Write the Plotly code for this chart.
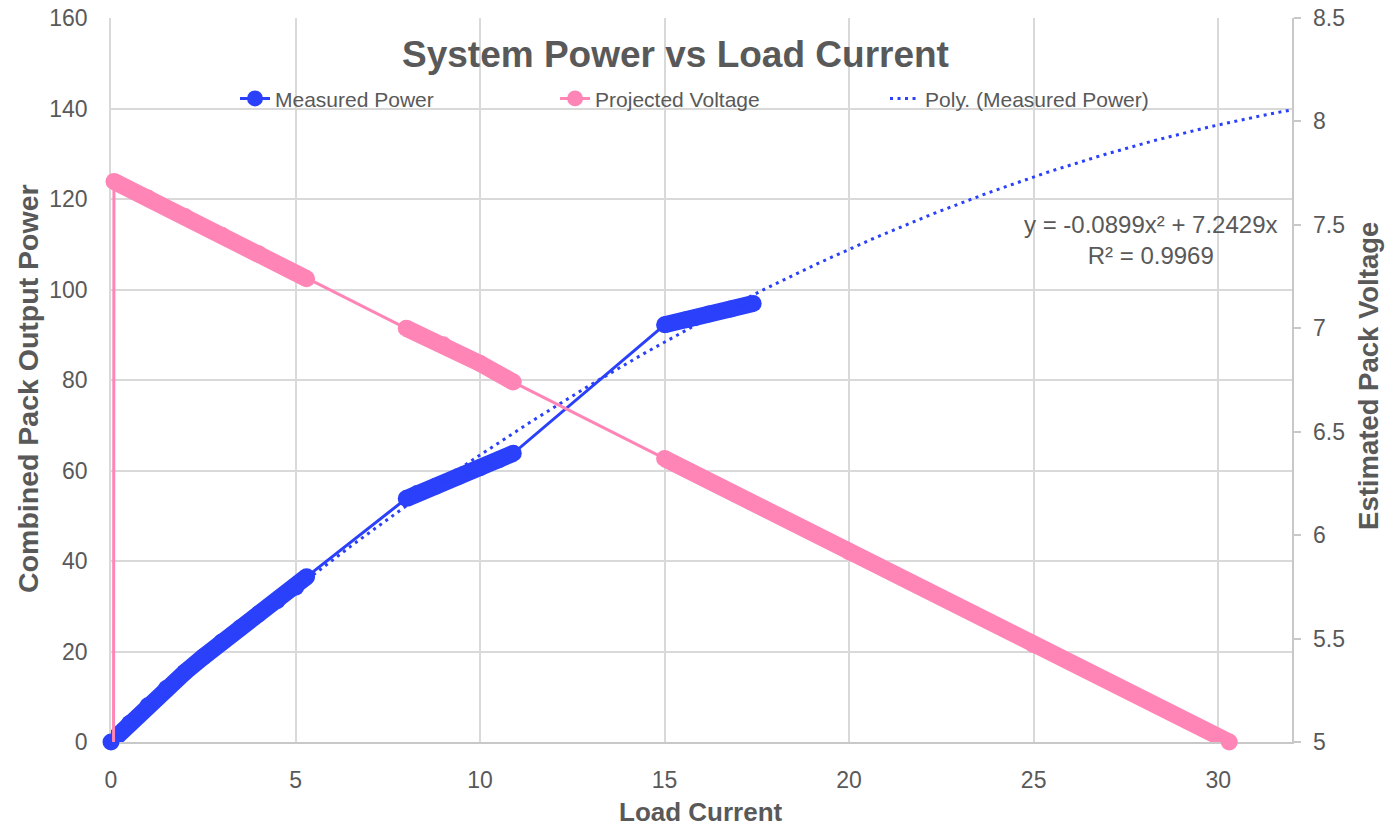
import numpy as np
import plotly.graph_objects as go

# ---------------- data ----------------
# Measured power: three runs of dense measurements (Load Current A, Power W)
power_run1_x = [0.0, 0.5, 1.0, 1.5, 2.0, 2.5, 3.0, 3.5, 4.0, 4.5, 5.0, 5.3]
power_run1_y = [0.0, 4.1, 8.0, 11.8, 15.4, 18.8, 22.1, 25.2, 28.3, 31.2, 34.2, 36.5]
power_run2_x = [8.0, 8.3, 8.8, 9.4, 10.0, 10.5, 10.9]
power_run2_y = [53.8, 54.9, 56.5, 58.6, 60.6, 62.3, 63.8]
power_run3_x = [15.0, 15.6, 16.2, 16.8, 17.4]
power_run3_y = [92.2, 93.3, 94.6, 95.7, 96.9]

# Projected voltage (first sample is 0 V, off the 5-8.5 scale)
volt_lead_x = [0.05]
volt_lead_y = [0.0]
volt_run1_x = [0.08, 1.0, 2.0, 3.0, 4.0, 5.3]
volt_run1_y = [7.71, 7.63, 7.54, 7.45, 7.36, 7.24]
volt_run2_x = [8.0, 9.0, 10.0, 10.9]
volt_run2_y = [7.00, 6.92, 6.83, 6.74]
volt_run3_x = [15.0, 20.0, 25.0, 30.3]
volt_run3_y = [6.37, 5.92, 5.47, 5.00]

# Excel polynomial trendline of Measured Power (order 2, intercept 0)
trend_coeffs = [-0.0899, 7.2429, 0.0]
trend_label = "y = -0.0899x² + 7.2429x<br>R² = 0.9969"

x_ticks = [0, 5, 10, 15, 20, 25, 30]
y_ticks = [0, 20, 40, 60, 80, 100, 120, 140, 160]
y2_ticks = [5, 5.5, 6, 6.5, 7, 7.5, 8, 8.5]

# ---------------- styling ----------------
BLUE = "#2A40FA"
PINK = "#FF85B6"
TXT = "#595959"
GRID = "#d9d9d9"
FONT = "Liberation Sans, Arial, sans-serif"
BAND = 17

power_x = power_run1_x + power_run2_x + power_run3_x
power_y = power_run1_y + power_run2_y + power_run3_y
volt_x = volt_lead_x + volt_run1_x + volt_run2_x + volt_run3_x
volt_y = volt_lead_y + volt_run1_y + volt_run2_y + volt_run3_y

fig = go.Figure()

# measured power: dense runs drawn as thick bands
for rx, ry in [(power_run1_x, power_run1_y), (power_run2_x, power_run2_y), (power_run3_x, power_run3_y)]:
    fig.add_trace(go.Scatter(x=rx, y=ry, mode="lines", line=dict(color=BLUE, width=BAND),
                             showlegend=False, hoverinfo="skip", yaxis="y"))
fig.add_trace(go.Scatter(x=power_x, y=power_y, mode="lines+markers", name="Measured Power",
                         line=dict(color=BLUE, width=3),
                         marker=dict(color=BLUE, size=BAND, opacity=1, line=dict(width=0)),
                         cliponaxis=False, legend="legend", yaxis="y"))

# trendline
tx = np.linspace(0, 32, 321)
ty = np.polyval(trend_coeffs, tx)
fig.add_trace(go.Scatter(x=tx, y=ty, mode="lines", name="Poly. (Measured Power)",
                         line=dict(color=BLUE, width=3, dash="3px,4.5px"),
                         legend="legend3", yaxis="y"))

# projected voltage (secondary axis)
for rx, ry in [(volt_run1_x, volt_run1_y), (volt_run2_x, volt_run2_y), (volt_run3_x, volt_run3_y)]:
    fig.add_trace(go.Scatter(x=rx, y=ry, mode="lines", line=dict(color=PINK, width=BAND),
                             showlegend=False, hoverinfo="skip", yaxis="y2"))
vsizes = [0] * len(volt_lead_x) + [BAND] * (len(volt_x) - len(volt_lead_x))
fig.add_trace(go.Scatter(x=volt_x, y=volt_y, mode="lines+markers", name="Projected Voltage",
                         line=dict(color=PINK, width=3),
                         marker=dict(color=PINK, size=vsizes, opacity=1, line=dict(width=0)),
                         cliponaxis=False, legend="legend2", yaxis="y2"))

def leg(x):
    return dict(x=x, y=0.8885, xanchor="left", yanchor="middle", orientation="h",
                font=dict(family=FONT, size=21, color=TXT), bgcolor="rgba(0,0,0,0)")

annotations = [
    dict(text="<b>System Power vs Load Current</b>", x=0.4776, y=0.9489, xref="paper", yref="paper",
         xanchor="center", yanchor="middle", showarrow=False, font=dict(size=37, color=TXT)),
    dict(text="<b>Load Current</b>", x=0.4996, y=-0.0967, xref="paper", yref="paper",
         xanchor="center", yanchor="middle", showarrow=False, font=dict(size=26, color=TXT)),
    dict(text="<b>Combined Pack Output Power</b>", x=-0.0703, y=0.489, xref="paper", yref="paper",
         xanchor="center", yanchor="middle", textangle=-90, showarrow=False, font=dict(size=28.5, color=TXT)),
    dict(text="<b>Estimated Pack Voltage</b>", x=1.0643, y=0.5055, xref="paper", yref="paper",
         xanchor="center", yanchor="middle", textangle=-90, showarrow=False, font=dict(size=27.5, color=TXT)),
    dict(text=trend_label, x=0.8806, y=0.6935, xref="paper", yref="paper", align="center",
         xanchor="center", yanchor="middle", showarrow=False, font=dict(size=24, color=TXT)),
]
# right-axis tick labels, placed on the secondary axis scale
for v in y2_ticks:
    annotations.append(dict(text=f"{v:g}", x=1.0, xref="paper", y=v, yref="y2", xanchor="left",
                            yanchor="middle", xshift=19, showarrow=False,
                            font=dict(size=23, color=TXT)))

fig.update_layout(
    width=1386, height=826,
    margin=dict(l=111, r=94, t=18, b=84, autoexpand=False),
    paper_bgcolor="white", plot_bgcolor="white",
    font=dict(family=FONT, color=TXT),
    legend=leg(0.105), legend2=leg(0.376), legend3=leg(0.6554),
    xaxis=dict(range=[0, 32], tickvals=x_ticks, showgrid=True, gridcolor=GRID, gridwidth=1.5,
               zeroline=False, showline=True, linecolor="#c8c8c8", linewidth=1.5,
               ticks="", ticklabelstandoff=17, tickfont=dict(size=23, color=TXT),
               automargin=False, layer="below traces"),
    yaxis=dict(range=[0, 160], tickvals=y_ticks, showgrid=True, gridcolor=GRID, gridwidth=1.5,
               zeroline=False, showline=True, linecolor=GRID, linewidth=1.5,
               ticks="", ticklabelstandoff=17, tickfont=dict(size=23, color=TXT),
               ticklabeloverflow="allow", automargin=False, layer="below traces"),
    yaxis2=dict(range=[5, 8.5], tickvals=y2_ticks, overlaying="y", side="right", showgrid=False,
                zeroline=False, showline=True, linecolor="#c8c8c8", linewidth=1.5,
                ticks="outside", ticklen=7, tickcolor="#c8c8c8", tickwidth=1.5,
                showticklabels=False, automargin=False, layer="below traces"),
    annotations=annotations,
)

fig.write_html("out.html", config={"displayModeBar": False},
               post_script="document.body.style.margin='0px';")
